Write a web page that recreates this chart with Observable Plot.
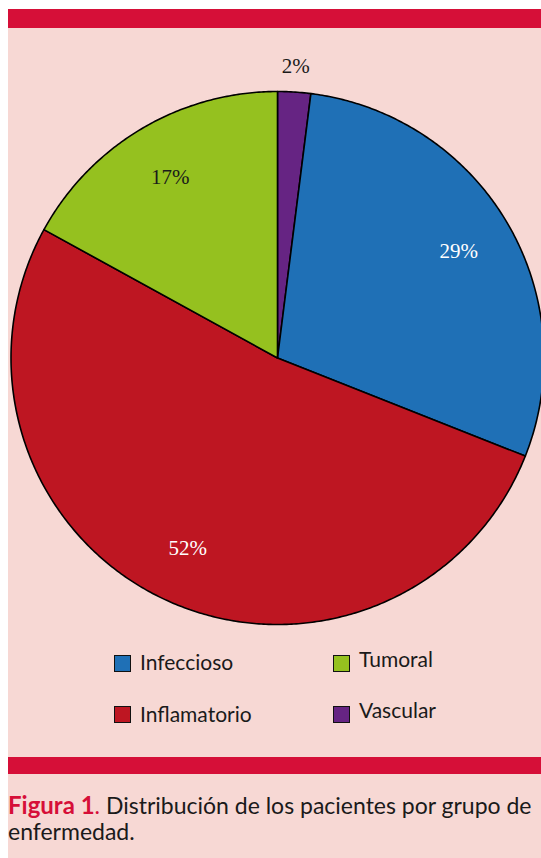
<!DOCTYPE html>
<html>
<head>
<meta charset="utf-8">
<script src="https://cdn.jsdelivr.net/npm/d3@7"></script>
<script src="https://cdn.jsdelivr.net/npm/@observablehq/plot@0.6"></script>
<style>
  html, body { margin: 0; padding: 0; background: #ffffff; }
  body { position: relative; width: 541px; height: 858px; overflow: hidden; }
  #panel { position: absolute; left: 8px; top: 9px; width: 533px; height: 849px; background: #f7d8d4; }
  .bar { position: absolute; left: 8px; width: 533px; background: #d60f38; }
  #chart { position: absolute; left: 0; top: 0; }
  .sw { position: absolute; width: 17px; height: 17px; box-sizing: border-box; border: 1.5px solid #111; }
  .lt { position: absolute; font-family: Lato, "Open Sans", sans-serif; font-size: 21px; line-height: 21px; color: #1a1a1a; white-space: nowrap; }
  #caption { position: absolute; left: 8px; top: 792px; font-family: Lato, "Open Sans", sans-serif; font-size: 23px; line-height: 26px; color: #1a1a1a; white-space: nowrap; }
  #caption b { color: #d60f38; font-weight: 700; font-size: 24px; }
</style>
</head>
<body>
<div id="panel"></div>
<div class="bar" style="top:9px;height:19px"></div>
<div class="bar" style="top:757px;height:17px"></div>
<div id="chart"></div>
<div id="legend"></div>
<div id="caption"><b>Figura 1</b><span style="color:#d60f38">.</span> Distribución de los pacientes por grupo de<br>enfermedad.</div>
<script>
// Data
const categories = ["Infeccioso", "Inflamatorio", "Tumoral", "Vascular"];
const values = [29, 52, 17, 2];
const labels = ["29%", "52%", "17%", "2%"];
const colors = ["#1f70b6", "#be1622", "#95c11f", "#662483"];
const pieOrder = ["Vascular", "Infeccioso", "Inflamatorio", "Tumoral"]; // clockwise from 12 o'clock
const labelColors = ["#ffffff", "#ffffff", "#1a1a1a", "#1a1a1a"];

const rows = pieOrder.map(name => {
  const i = categories.indexOf(name);
  return {name, value: values[i], label: labels[i], color: colors[i], labelColor: labelColors[i]};
});
const arcs = d3.pie().sort(null).value(d => d.value)(rows);

// polygons in unit-circle coordinates (y up), sampled along each arc
const slices = arcs.map(a => {
  const pts = [{x: 0, y: 0}];
  const n = Math.max(4, Math.ceil((a.endAngle - a.startAngle) / (Math.PI / 360)));
  for (let k = 0; k <= n; k++) {
    const t = a.startAngle + (a.endAngle - a.startAngle) * k / n;
    pts.push({x: Math.sin(t), y: Math.cos(t)});
  }
  pts.push({x: 0, y: 0});
  return {data: a.data, pts};
});
const labelPts = arcs.map(a => {
  const m = (a.startAngle + a.endAngle) / 2;
  const r = a.data.value < 5 ? 1.095 : 0.79;
  return {x: r * Math.sin(m), y: r * Math.cos(m), label: a.data.label, color: a.data.labelColor};
});

const cx = 277, cy = 357.5, R = 266.5;
const chart = Plot.plot({
  width: 541,
  height: 650,
  margin: 0,
  style: {background: "transparent", overflow: "visible"},
  x: {domain: [-1, 1], range: [cx - R, cx + R], axis: null},
  y: {domain: [-1, 1], range: [cy + R, cy - R], axis: null},
  marks: [
    ...slices.map(s => Plot.line(s.pts, {x: "x", y: "y", fill: s.data.color, stroke: "#000", strokeWidth: 1.6, strokeLinejoin: "round"})),
    Plot.text(labelPts, {x: "x", y: "y", text: "label", fill: "color", fontFamily: "'Liberation Serif', 'DejaVu Serif', serif", fontSize: 21})
  ]
});
document.getElementById("chart").appendChild(chart);

// Legend (built from categories & colors)
const legendLayout = [
  {sx: 114, sy: 655, tx: 140, base: 670},
  {sx: 114, sy: 706, tx: 140, base: 722},
  {sx: 333, sy: 655, tx: 359, base: 667},
  {sx: 333, sy: 706, tx: 359, base: 718}
];
const leg = document.getElementById("legend");
categories.forEach((c, i) => {
  const L = legendLayout[i];
  const sw = document.createElement("div");
  sw.className = "sw";
  sw.style.left = L.sx + "px"; sw.style.top = L.sy + "px"; sw.style.background = colors[i];
  leg.appendChild(sw);
  const t = document.createElement("div");
  t.className = "lt";
  t.textContent = c;
  t.style.left = L.tx + "px"; t.style.top = (L.base - 18.6) + "px";
  leg.appendChild(t);
});
</script>
</body>
</html>
